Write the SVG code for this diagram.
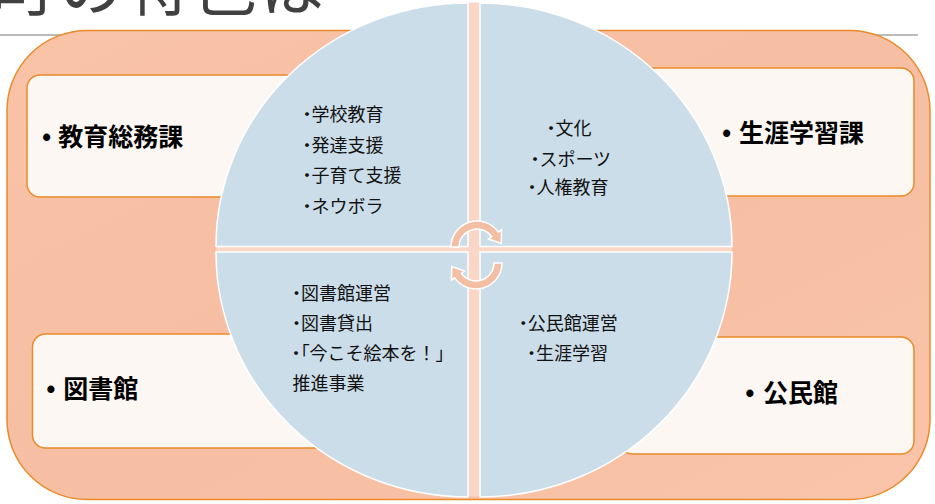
<svg xmlns="http://www.w3.org/2000/svg" width="935" height="504" viewBox="0 0 935 504">
<defs>
<linearGradient id="bg" x1="0" y1="0" x2="1" y2="1">
<stop offset="0" stop-color="#F9C3A8"/>
<stop offset="0.5" stop-color="#F6BEA3"/>
<stop offset="1" stop-color="#F9C4A9"/>
</linearGradient>
<style>
.box{fill:#FCF7F3;stroke:#E98B2A;stroke-width:1.5}
.q{fill:#CBDDE9;stroke:#FFFFFF;stroke-width:1.5}
.lbl{font-family:"Noto Sans CJK JP","Noto Sans",sans-serif;font-weight:bold;font-size:25px;fill:#000}
.bul{font-family:"Liberation Sans",sans-serif;font-weight:bold;font-size:25px;fill:#000}
.it{font-family:"Noto Sans CJK JP","Noto Sans",sans-serif;font-size:18px;fill:#111}
.p{font-feature-settings:"palt" 1}
.arr{fill:#F2BFA5;stroke:#FFFFFF;stroke-width:1.5}
</style>
</defs>
<rect width="935" height="504" fill="#FFFFFF"/>
<g id="title">
<text x="-8" y="10" font-family="'Noto Sans CJK JP',sans-serif" font-size="64" letter-spacing="3" fill="#404040">町の特色は</text>
<line x1="0" y1="35" x2="918" y2="35" stroke="#A6A6A6" stroke-width="1.5"/>
</g>
<g id="frame">
<rect x="7" y="30.5" width="923" height="469" rx="80" ry="80" fill="url(#bg)" stroke="#E98B2A" stroke-width="1.5"/>
</g>
<g id="node-kyoiku-somu">
<rect class="box" x="27" y="75" width="300" height="122" rx="13"/>
<text class="bul" x="42.3" y="145.5">•</text>
<text class="lbl" x="58.3" y="145.5">教育総務課</text>
</g>
<g id="node-shogai-gakushu">
<rect class="box" x="620" y="68" width="294" height="128" rx="13"/>
<text class="bul" x="722.3" y="141.5">•</text>
<text class="lbl" x="739" y="141.5">生涯学習課</text>
</g>
<g id="node-toshokan">
<rect class="box" x="32.5" y="334" width="300" height="114" rx="13"/>
<text class="bul" x="46.6" y="397.5">•</text>
<text class="lbl" x="63.3" y="397.5">図書館</text>
</g>
<g id="node-kominkan">
<rect class="box" x="620" y="337" width="294" height="117" rx="13"/>
<text class="bul" x="745.6" y="402">•</text>
<text class="lbl" x="763" y="402">公民館</text>
</g>
<g id="circle">
<ellipse cx="474" cy="249.5" rx="258" ry="247" fill="#F9D6C5"/>
<g id="quadrant-tl">
<path class="q" d="M468 246.5 L216 246.5 A252 243.5 0 0 1 468 3 Z"/>
<text class="it" x="302.4" y="121"><tspan class="p">・</tspan>学校教育</text>
<text class="it" x="302.4" y="151.5"><tspan class="p">・</tspan>発達支援</text>
<text class="it" x="302.4" y="182"><tspan class="p">・</tspan>子育て支援</text>
<text class="it" x="302.4" y="212.5"><tspan class="p">・</tspan>ネウボラ</text>
</g>
<g id="quadrant-tr">
<path class="q" d="M480 246.5 L480 3 A252 243.5 0 0 1 732 246.5 Z"/>
<text class="it" x="546.4" y="135"><tspan class="p">・</tspan>文化</text>
<text class="it" x="530.4" y="166"><tspan class="p">・</tspan>スポーツ</text>
<text class="it" x="527.4" y="194"><tspan class="p">・</tspan>人権教育</text>
</g>
<g id="quadrant-bl">
<path class="q" d="M468 252 L468 497 A252 245 0 0 1 216 252 Z"/>
<text class="it" x="292" y="299.5"><tspan class="p">・</tspan>図書館運営</text>
<text class="it" x="292" y="330"><tspan class="p">・</tspan>図書貸出</text>
<text class="it" x="291.5" y="360"><tspan class="p">・「</tspan>今こそ絵本を！」</text>
<text class="it" x="292.4" y="390">推進事業</text>
</g>
<g id="quadrant-br">
<path class="q" d="M480 252 L732 252 A252 245 0 0 1 480 497 Z"/>
<text class="it" x="518.7" y="329.5"><tspan class="p">・</tspan>公民館運営</text>
<text class="it" x="527" y="360"><tspan class="p">・</tspan>生涯学習</text>
</g>
</g>
<g id="connectors">
<path class="arr" d="M451 247 A26 26 0 0 1 498.3 232.1 L501.6 229.8 L501.3 243.4 L488.5 239 L491.7 236.7 A18 18 0 0 0 459 247 Z"/>
<path class="arr" transform="rotate(180 476.5 255)" d="M451 247 A26 26 0 0 1 498.3 232.1 L501.6 229.8 L501.3 243.4 L488.5 239 L491.7 236.7 A18 18 0 0 0 459 247 Z"/>
</g>
</svg>
